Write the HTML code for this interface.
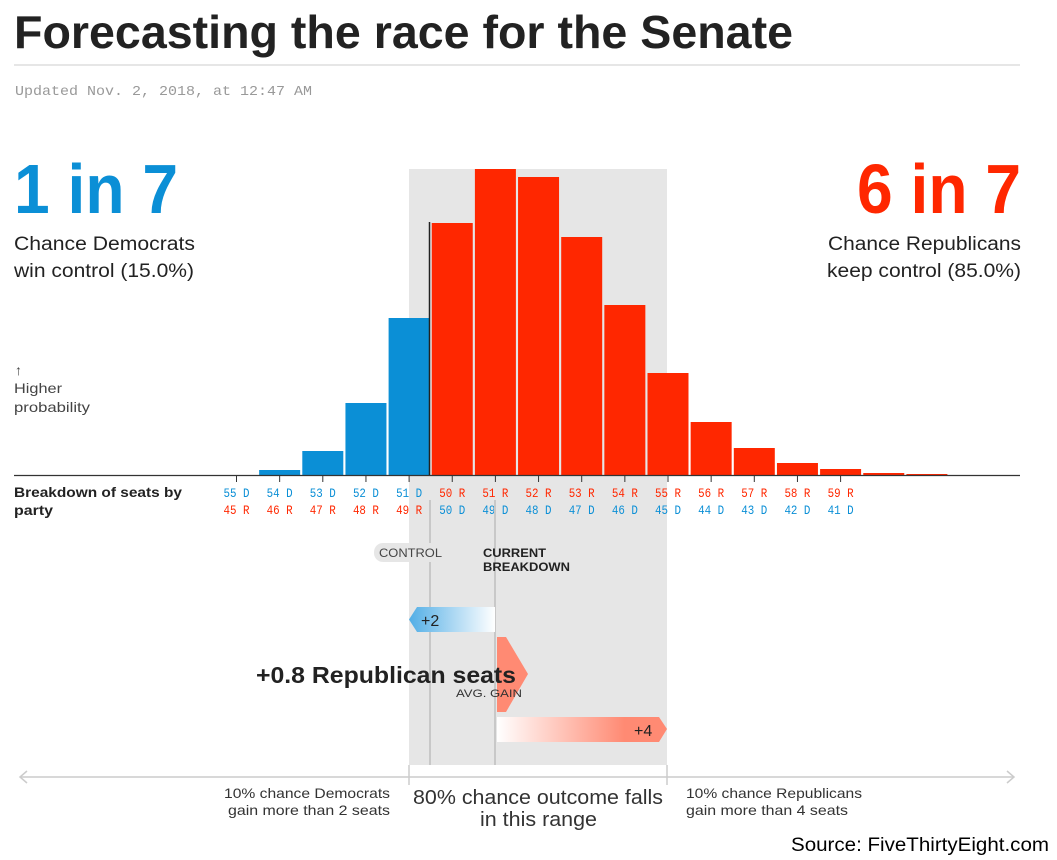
<!DOCTYPE html>
<html><head><meta charset="utf-8"><style>
body{margin:0;background:#fff;}
svg{display:block;font-family:"Liberation Sans",sans-serif;}
.mono{font-family:"Liberation Mono",monospace;}
</style></head><body>
<svg width="1057" height="860" viewBox="0 0 1057 860">
<defs>
<linearGradient id="gb" x1="0" x2="1"><stop offset="0" stop-color="#52aee6"/><stop offset="1" stop-color="#ffffff"/></linearGradient>
<linearGradient id="gr" x1="0" x2="1"><stop offset="0" stop-color="#ffffff"/><stop offset="0.75" stop-color="#ff8a73"/><stop offset="1" stop-color="#ff8a73"/></linearGradient>
</defs>
<text x="14" y="48" font-size="46" font-weight="bold" fill="#222" textLength="779">Forecasting the race for the Senate</text>
<line x1="14" y1="65" x2="1020" y2="65" stroke="#ccc"/>
<text class="mono" x="15" y="95" font-size="14" fill="#999" textLength="297">Updated Nov. 2, 2018, at 12:47 AM</text>

<rect x="409" y="169" width="258" height="596" fill="#e6e6e6"/>

<text x="14" y="213" font-size="70" font-weight="bold" fill="#0b8fd6" textLength="164">1 in 7</text>
<text x="14" y="250" font-size="19" fill="#222" textLength="181">Chance Democrats</text>
<text x="14" y="277" font-size="19" fill="#222" textLength="180">win control (15.0%)</text>
<text x="857" y="213" font-size="70" font-weight="bold" fill="#ff2700" textLength="164">6 in 7</text>
<text x="828" y="250" font-size="19" fill="#222" textLength="193">Chance Republicans</text>
<text x="827" y="277" font-size="19" fill="#222" textLength="194">keep control (85.0%)</text>

<text x="15" y="375" font-size="14" fill="#444">↑</text>
<text x="14" y="393" font-size="14" fill="#444" textLength="48">Higher</text>
<text x="14" y="412" font-size="14" fill="#444" textLength="76">probability</text>

<g id="bars"></g>
<line x1="14" y1="475.5" x2="1020" y2="475.5" stroke="#333" stroke-width="1.3"/>
<line x1="429.5" y1="222" x2="429.5" y2="475" stroke="#222" stroke-width="1.5"/>
<g id="ticks"></g>

<text x="14" y="497" font-size="14" font-weight="bold" fill="#222" textLength="168">Breakdown of seats by</text>
<text x="14" y="515" font-size="14" font-weight="bold" fill="#222" textLength="39">party</text>

<line x1="430" y1="500" x2="430" y2="765" stroke="#c8c8c8" stroke-width="2"/>
<line x1="495" y1="500" x2="495" y2="765" stroke="#c8c8c8" stroke-width="2"/>
<rect x="374" y="543" width="70" height="19" rx="9" fill="#e6e6e6"/>
<text x="379" y="557" font-size="12" fill="#444" textLength="63">CONTROL</text>
<text x="483" y="557" font-size="12" font-weight="bold" fill="#222" textLength="63">CURRENT</text>
<text x="483" y="571" font-size="12" font-weight="bold" fill="#222" textLength="87">BREAKDOWN</text>

<polygon points="417,607 495,607 495,632 417,632 409,619.5" fill="url(#gb)"/>
<text x="421" y="626" font-size="16" fill="#222">+2</text>
<polygon points="497,637 506,637 528,674 506,712 497,712" fill="#ff8a73"/>
<text x="256" y="683" font-size="23" font-weight="bold" fill="#222" textLength="260">+0.8 Republican seats</text>
<text x="456" y="697" font-size="11" fill="#333" textLength="66">AVG. GAIN</text>
<polygon points="497,717 659,717 667,729 659,742 497,742" fill="url(#gr)"/>
<text x="634" y="736" font-size="16" fill="#222">+4</text>

<line x1="20" y1="777" x2="1014" y2="777" stroke="#ccc" stroke-width="1.5"/>
<polyline points="27,771 20,777 27,783" fill="none" stroke="#ccc" stroke-width="1.5"/>
<polyline points="1007,771 1014,777 1007,783" fill="none" stroke="#ccc" stroke-width="1.5"/>
<line x1="409" y1="765" x2="409" y2="785" stroke="#ccc" stroke-width="1.5"/>
<line x1="667" y1="765" x2="667" y2="785" stroke="#ccc" stroke-width="1.5"/>
<text x="224" y="798" font-size="14" fill="#333" textLength="166">10% chance Democrats</text>
<text x="228" y="815" font-size="14" fill="#333" textLength="162">gain more than 2 seats</text>
<text x="413" y="804" font-size="20" fill="#333" textLength="250">80% chance outcome falls</text>
<text x="480" y="826" font-size="20" fill="#333" textLength="117">in this range</text>
<text x="686" y="798" font-size="14" fill="#333" textLength="176">10% chance Republicans</text>
<text x="686" y="815" font-size="14" fill="#333" textLength="162">gain more than 4 seats</text>
<text x="791" y="851" font-size="19" fill="#000" textLength="258">Source: FiveThirtyEight.com</text>
</svg>
<script>
const repSeats = [45,46,47,48,49,50,51,52,53,54,55,56,57,58,59,60,61];
const probs = [0,0.5,2.4,7.2,15.7,25.2,30.6,29.8,23.8,17.0,10.2,5.3,2.7,1.2,0.6,0.2,0.1];
const labelSeats = [45,46,47,48,49,50,51,52,53,54,55,56,57,58,59];
const NS='http://www.w3.org/2000/svg';
const x0=236.5, pitch=43.15, base=475, yScale=306/30.6;
const xPos = s => x0 + (s-45)*pitch;
const yPos = p => base - p*yScale;
const blue='#0b8fd6', red='#ff2700';
const gb=document.getElementById('bars');
repSeats.forEach((s,i)=>{
  const r=document.createElementNS(NS,'rect');
  r.setAttribute('x', xPos(s)-20.5); r.setAttribute('width',41);
  r.setAttribute('y', yPos(probs[i])); r.setAttribute('height', base-yPos(probs[i]));
  r.setAttribute('fill', s<50?blue:red);
  
  
  gb.appendChild(r);
});
const gt=document.getElementById('ticks');
labelSeats.forEach(s=>{
  const x=xPos(s);
  const l=document.createElementNS(NS,'line');
  l.setAttribute('x1',x);l.setAttribute('x2',x);l.setAttribute('y1',475);l.setAttribute('y2',482);
  l.setAttribute('stroke','#333');
  
  
  gt.appendChild(l);
  const d=100-s, rTop = s>=50;
  const t1=document.createElementNS(NS,'text');
  t1.setAttribute('x',x-13);t1.setAttribute('y',497);
  t1.setAttribute('class','mono');t1.setAttribute('font-size','13');t1.setAttribute('textLength','26');
  t1.setAttribute('fill', rTop?red:blue);
  t1.textContent = rTop? (s+' R') : (d+' D');
  
  
  gt.appendChild(t1);
  const t2=document.createElementNS(NS,'text');
  t2.setAttribute('x',x-13);t2.setAttribute('y',514);
  t2.setAttribute('class','mono');t2.setAttribute('font-size','13');t2.setAttribute('textLength','26');
  t2.setAttribute('fill', rTop?blue:red);
  t2.textContent = rTop? (d+' D') : (s+' R');
  
  
  gt.appendChild(t2);
});
document.querySelectorAll('text[textLength]').forEach(t=>t.setAttribute('lengthAdjust','spacingAndGlyphs'));
</script>
</body></html>
